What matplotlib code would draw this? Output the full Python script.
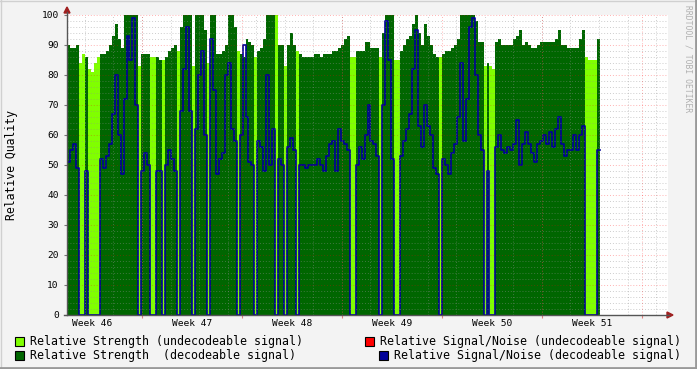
import numpy as np
import matplotlib.pyplot as plt
from matplotlib.patches import Polygon, Rectangle
from matplotlib.lines import Line2D
import matplotlib.transforms as mtransforms

plt.rcParams['font.family'] = 'DejaVu Sans Mono'

# one sample every 5 hours, starting at the left edge of the graph
step_h = 5

strength = [90, 89, 89, 90, 84, 87, 86, 82, 81, 84,
            86, 87, 87, 88, 90, 93, 97, 92, 89, 100,
            100, 100, 100, 100, 83, 87, 87, 87, 86, 86,
            86, 85, 85, 86, 88, 89, 90, 88, 96, 100,
            100, 100, 83, 100, 100, 100, 95, 84, 100, 100,
            87, 87, 88, 90, 100, 100, 96, 88, 87, 86,
            92, 91, 90, 86, 88, 89, 92, 100, 100, 100,
            100, 90, 90, 83, 90, 94, 90, 88, 87, 86,
            86, 86, 86, 87, 87, 86, 87, 87, 87, 88,
            88, 89, 90, 92, 93, 86, 86, 88, 88, 88,
            91, 91, 89, 89, 89, 86, 94, 100, 100, 100,
            85, 85, 88, 90, 92, 93, 97, 100, 94, 90,
            97, 93, 90, 87, 86, 86, 87, 88, 88, 89,
            90, 92, 100, 100, 100, 100, 100, 98, 91, 91,
            83, 84, 83, 82, 91, 92, 90, 90, 90, 90,
            92, 93, 95, 90, 91, 90, 89, 89, 90, 91,
            91, 91, 91, 91, 92, 95, 90, 90, 89, 89,
            89, 89, 92, 95, 86, 85, 85, 85, 92]

decodeable = [1, 1, 1, 1, 0, 0, 1, 0, 0, 0,
              0, 1, 1, 1, 1, 1, 1, 1, 1, 1,
              1, 1, 1, 1, 0, 1, 1, 1, 0, 0,
              1, 1, 0, 1, 1, 1, 1, 0, 1, 1,
              1, 1, 0, 1, 1, 1, 1, 0, 1, 1,
              1, 1, 1, 1, 1, 1, 1, 0, 1, 1,
              1, 1, 1, 0, 1, 1, 1, 1, 1, 1,
              0, 1, 1, 0, 1, 1, 1, 0, 1, 1,
              1, 1, 1, 1, 1, 1, 1, 1, 1, 1,
              1, 1, 1, 1, 1, 0, 0, 1, 1, 1,
              1, 1, 1, 1, 1, 0, 1, 1, 1, 1,
              0, 0, 1, 1, 1, 1, 1, 1, 1, 1,
              1, 1, 1, 1, 1, 0, 1, 1, 1, 1,
              1, 1, 1, 1, 1, 1, 1, 1, 1, 1,
              0, 1, 0, 0, 1, 1, 1, 1, 1, 1,
              1, 1, 1, 1, 1, 1, 1, 1, 1, 1,
              1, 1, 1, 1, 1, 1, 1, 1, 1, 1,
              1, 1, 1, 1, 0, 0, 0, 0, 1]

snr = [51, 55, 57, 49, 0, 0, 48, 0, 0, 0,
       0, 52, 49, 53, 57, 67, 80, 60, 47, 72,
       93, 85, 99, 70, 0, 48, 54, 50, 0, 0,
       48, 48, 0, 50, 55, 52, 48, 0, 68, 82,
       96, 68, 0, 62, 80, 88, 60, 0, 92, 75,
       47, 52, 54, 80, 84, 62, 58, 0, 60, 90,
       66, 51, 50, 0, 58, 56, 48, 80, 50, 62,
       0, 52, 50, 0, 56, 59, 55, 0, 50, 50,
       49, 50, 50, 50, 52, 50, 48, 53, 57, 58,
       48, 62, 58, 57, 55, 0, 0, 50, 56, 52,
       60, 70, 58, 57, 53, 0, 70, 98, 85, 52,
       0, 0, 53, 58, 62, 67, 82, 95, 63, 56,
       70, 63, 60, 49, 47, 0, 52, 50, 47, 54,
       57, 66, 84, 58, 72, 96, 99, 80, 60, 55,
       0, 48, 0, 0, 56, 60, 55, 54, 56, 55,
       57, 65, 50, 57, 61, 57, 54, 51, 57, 58,
       60, 57, 61, 56, 62, 66, 57, 53, 55, 55,
       60, 55, 60, 63, 0, 0, 0, 0, 55]

week_labels = ['Week 46', 'Week 47', 'Week 48', 'Week 49', 'Week 50', 'Week 51']
first_week_start = 126   # hours after graph start
week_h = 168
span_h = 1010

c_light = '#80ff00'
c_dark = '#006600'
c_blue = '#000099'
c_red = '#ff0000'

W, H = 697, 369
fig = plt.figure(figsize=(W / 100, H / 100), dpi=100, facecolor='#f3f3f3')
ax = fig.add_axes([67 / W, 1 - 315 / H, 601 / W, 300 / H])
ax.set_facecolor('white')

def px(x, y):
    return (x / W, 1 - y / H)

strength = np.array(strength, float)
dec = np.array(decodeable) == 1
snr = np.array(snr, float)
t = np.arange(len(strength) + 1) * step_h

light = np.where(dec, 0, strength)
dark = np.where(dec, strength, 0)
ext = lambda v: np.append(v, v[-1])

ax.fill_between(t, 0, ext(light), step='post', color=c_light, lw=0, zorder=1)
ax.fill_between(t, 0, ext(dark), step='post', color=c_dark, lw=0, zorder=2)
ax.step(t, ext(snr), where='post', color=c_blue, lw=1.2, zorder=3)

# grid (drawn over the areas, semi transparent like rrdtool)
dots = (0, (1, 2))
for y in range(2, 101, 2):
    if y % 10:
        ax.axhline(y, color='#909090', alpha=0.45, lw=0.7, ls=dots, zorder=4)
for y in range(10, 101, 10):
    ax.axhline(y, color=c_red, alpha=0.3, lw=0.7, ls=dots, zorder=5)
for x in np.arange(30, span_h, 48):
    ax.axvline(x, color='#909090', alpha=0.45, lw=0.7, ls=dots, zorder=4)
major_x = np.arange(first_week_start, span_h, week_h)
for x in major_x:
    ax.axvline(x, color=c_red, alpha=0.3, lw=0.7, ls=dots, zorder=5)

ax.set_xlim(0, span_h)
ax.set_ylim(0, 100)
for s in ax.spines.values():
    s.set_visible(False)

ax.set_yticks(range(0, 101, 10))
ax.set_yticklabels([str(v) for v in range(0, 101, 10)], fontsize=6.8)
ax.tick_params(axis='y', length=2, color='#777777', pad=4)
ax.set_xticks(major_x)
ax.set_xticklabels([''] * len(major_x))
ax.tick_params(axis='x', length=2, color='#e08080')

trans = mtransforms.blended_transform_factory(ax.transData, ax.transAxes)
for k, lab in enumerate(week_labels):
    ax.text(first_week_start - week_h / 2 + k * week_h, -0.03, lab, transform=trans,
            ha='center', va='center', fontsize=6.8)

# axes lines and arrows
fig.add_artist(Line2D([67 / W, 67 / W], [1 - 315 / H, 1 - 12 / H], color='#555555', lw=1))
fig.add_artist(Line2D([64 / W, 669 / W], [1 - 315 / H, 1 - 315 / H], color='#555555', lw=1))
fig.add_artist(Polygon([px(64, 13), px(70, 13), px(67, 7)], closed=True,
                       color='#a02020', transform=fig.transFigure))
fig.add_artist(Polygon([px(667, 312), px(667, 318), px(673, 315)], closed=True,
                       color='#a02020', transform=fig.transFigure))

fig.text(12 / W, 1 - 165 / H, 'Relative Quality', rotation=90, ha='center', va='center',
         fontsize=8.3)
fig.text(688 / W, 1 - 5 / H, 'RRDTOOL / TOBI OETIKER', rotation=270, ha='center', va='top',
         fontsize=5.8, color='#b0b0b0')

# legend
legend = [(15, 341, c_light, 'Relative Strength (undecodeable signal)'),
          (365, 341, c_red, 'Relative Signal/Noise (undecodeable signal)'),
          (15, 355, c_dark, 'Relative Strength  (decodeable signal)'),
          (379, 355, c_blue, 'Relative Signal/Noise (decodeable signal)')]
for x0, yc, col, lab in legend:
    fig.add_artist(Rectangle(px(x0, yc + 4.5), 9 / W, 9 / H, facecolor=col,
                             edgecolor='black', lw=0.8, transform=fig.transFigure))
    fig.text((x0 + 15) / W, 1 - yc / H, lab, ha='left', va='center', fontsize=8.35)

# frame of the image
fig.add_artist(Line2D([0, 1], [1 - 0.5 / H, 1 - 0.5 / H], color='#d0d0d0', lw=1))
fig.add_artist(Line2D([0.5 / W, 0.5 / W], [0, 1], color='#d0d0d0', lw=1))
fig.add_artist(Line2D([0, 1], [1 / H, 1 / H], color='#999999', lw=2))
fig.add_artist(Line2D([1 - 1 / W, 1 - 1 / W], [0, 1], color='#999999', lw=2))

fig.savefig('out.png', dpi=100, facecolor=fig.get_facecolor())
